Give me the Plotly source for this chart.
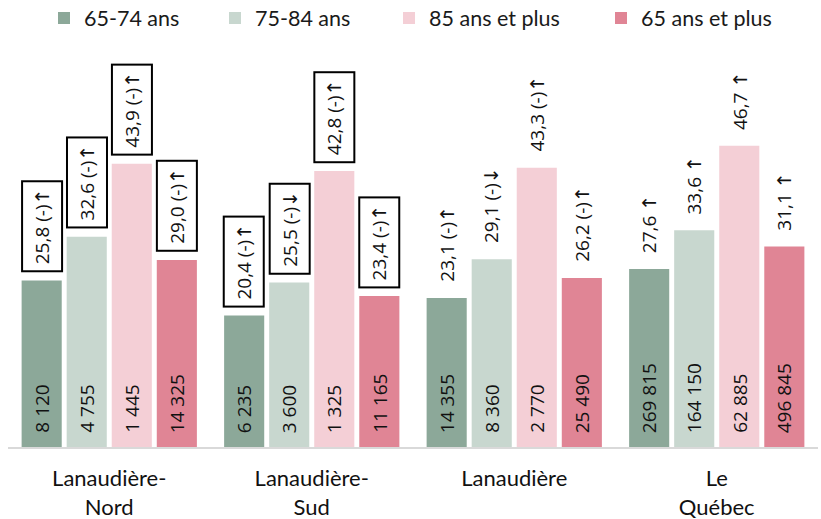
import plotly.graph_objects as go

categories = ["Lanaudière-<br>Nord", "Lanaudière-<br>Sud", "Lanaudière", "Le<br>Québec"]
series_names = ["65-74 ans", "75-84 ans", "85 ans et plus", "65 ans et plus"]
colors = ["#8CA899", "#C8D7CF", "#F4CFD6", "#E08595"]

# percentages (bar heights)
pct_65_74 = [25.8, 20.4, 23.1, 27.6]
pct_75_84 = [32.6, 25.5, 29.1, 33.6]
pct_85p = [43.9, 42.8, 43.3, 46.7]
pct_65p = [29.0, 23.4, 26.2, 31.1]

# labels above bars
lbl_65_74 = ["25,8 (-)↑", "20,4 (-)↑", "23,1 (-)↑", "27,6 ↑"]
lbl_75_84 = ["32,6 (-)↑", "25,5 (-)↓", "29,1 (-)↓", "33,6 ↑"]
lbl_85p = ["43,9 (-)↑", "42,8 (-)↑", "43,3 (-)↑", "46,7 ↑"]
lbl_65p = ["29,0 (-)↑", "23,4 (-)↑", "26,2 (-)↑", "31,1 ↑"]

# boxed label flag per category
boxed = [True, True, False, False]

# counts (inside bars)
n_65_74 = ["8 120", "6 235", "14 355", "269 815"]
n_75_84 = ["4 755", "3 600", "8 360", "164 150"]
n_85p = ["1 445", "1 325", "2 770", "62 885"]
n_65p = ["14 325", "11 165", "25 490", "496 845"]

pcts = [pct_65_74, pct_75_84, pct_85p, pct_65p]
lbls = [lbl_65_74, lbl_75_84, lbl_85p, lbl_65p]
counts = [n_65_74, n_75_84, n_85p, n_65p]

BARGAP = 0.11
BARGROUPGAP = 0.11
NS = len(series_names)

W, H = 821, 519
# legend box left edges (container fraction)
legend_x = [44 / W, 215 / W, 389 / W, 601 / W]
legend_names = ["legend", "legend2", "legend3", "legend4"]

fig = go.Figure()
for j in range(NS):
    fig.add_trace(go.Bar(
        x=categories, y=pcts[j], name=series_names[j],
        marker=dict(color=colors[j], line=dict(width=0)),
        hoverinfo="skip", legend=legend_names[j],
    ))

label_font = dict(family="Open Sans, DejaVu Sans, sans-serif", size=19, color="#111111")
slot = (1 - BARGAP) / NS
annotations = []
for j in range(NS):
    for i in range(len(categories)):
        xpos = i - (1 - BARGAP) / 2 + slot * (j + 0.5)
        annotations.append(dict(
            x=xpos, y=pcts[j][i], xref="x", yref="y",
            text=lbls[j][i], showarrow=False, textangle=-90,
            xanchor="center", yanchor="bottom", yshift=8,
            font=label_font,
            bordercolor="#000000" if boxed[i] else "rgba(0,0,0,0)",
            borderwidth=2, borderpad=6,
        ))
        annotations.append(dict(
            x=xpos, y=0, xref="x", yref="y",
            text=counts[j][i], showarrow=False, textangle=-90,
            xanchor="center", yanchor="bottom", yshift=12,
            font=label_font, borderpad=1,
        ))

legend_common = dict(orientation="h", xref="container", yref="container",
                     xanchor="left", y=1 - 18 / H, yanchor="middle",
                     font=dict(family="Lato, sans-serif", size=21.5, color="#1a1a1a"),
                     bgcolor="rgba(0,0,0,0)")
legends = {}
for j in range(NS):
    legends[legend_names[j]] = dict(legend_common, x=legend_x[j])

fig.update_layout(
    width=W, height=H,
    margin=dict(l=8, r=3, t=60, b=72, autoexpand=False),
    paper_bgcolor="white", plot_bgcolor="white",
    barmode="group", bargap=BARGAP, bargroupgap=BARGROUPGAP,
    showlegend=True,
    xaxis=dict(type="category", range=[-0.5, 3.5], showline=True, linecolor="#d9d9d9",
               linewidth=2, ticks="", showgrid=False, zeroline=False,
               tickfont=dict(family="Lato, sans-serif", size=22, color="#111111"),
               ticklabelstandoff=11),
    yaxis=dict(range=[0, 60], visible=False, showgrid=False, zeroline=False),
    annotations=annotations,
    **legends,
)

fig.write_html("out.html", config={"displayModeBar": False},
               post_script="document.body.style.margin='0px';")
